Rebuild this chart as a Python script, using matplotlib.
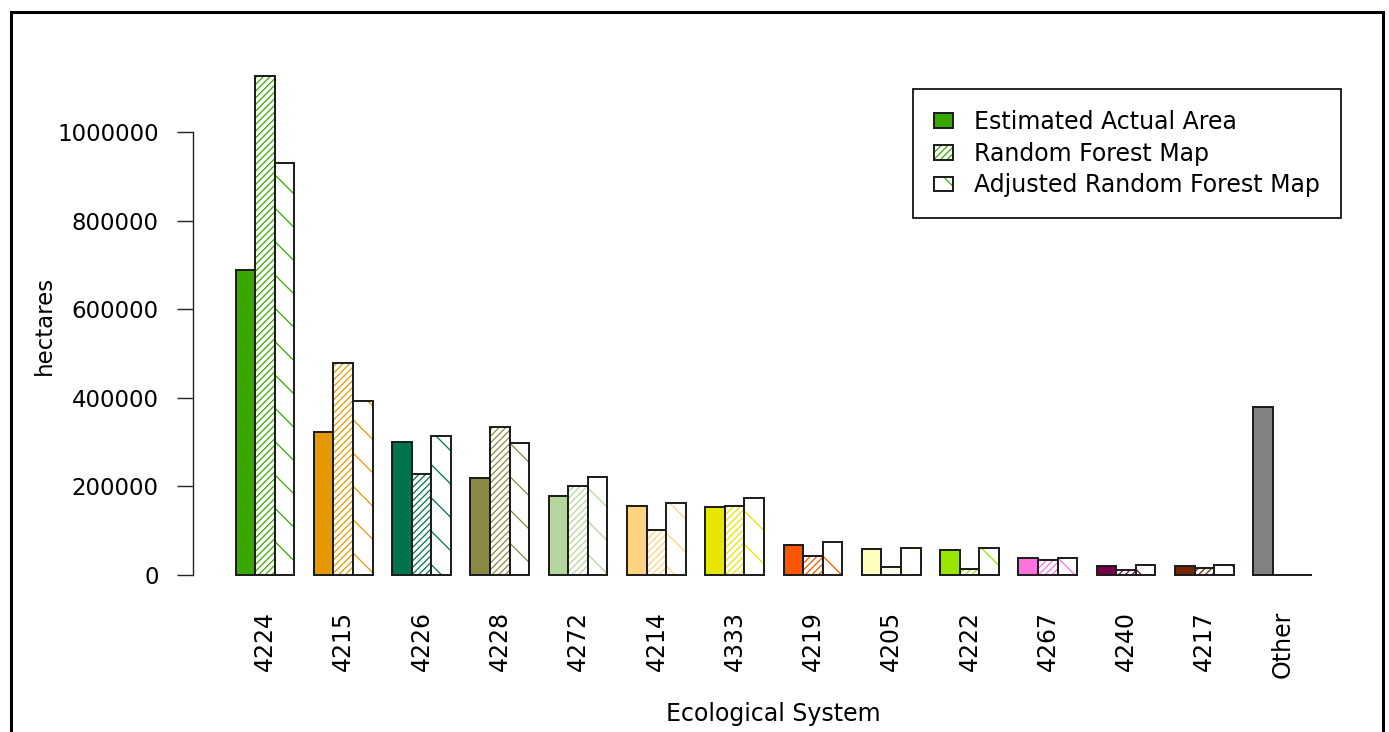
import numpy as np
import matplotlib
matplotlib.use("Agg")
import matplotlib.pyplot as plt
from matplotlib.patches import Patch, Rectangle
from matplotlib.legend_handler import HandlerTuple

# ---- data ----
systems = ["4224", "4215", "4226", "4228", "4272", "4214", "4333",
           "4219", "4205", "4222", "4267", "4240", "4217", "Other"]
colors = ["#38A800", "#E69800", "#00734C", "#898944", "#B4D79E", "#FFD37F",
          "#E6E600", "#FF5500", "#FFFFBE", "#98E600", "#FF73DF", "#73004C",
          "#732600", "#828282"]
estimated = [688000, 322000, 300000, 219000, 179000, 156000, 153000,
             67000, 59000, 56000, 38000, 21000, 21000, 380000]
random_forest = [1127000, 478000, 229000, 334000, 202000, 102000, 156000,
                 44000, 17000, 14000, 35000, 11000, 15000, 0]
adjusted = [930000, 393000, 314000, 298000, 222000, 162000, 173000,
            74000, 60000, 60000, 38000, 22000, 22000, 0]
series_names = ["Estimated Actual Area", "Random Forest Map",
                "Adjusted Random Forest Map"]
yticks = [0, 200000, 400000, 600000, 800000, 1000000]

plt.rcParams['font.family'] = ['DejaVu Sans']
plt.rcParams['hatch.linewidth'] = 0.9

W, H = 1389, 732
fig = plt.figure(figsize=(W / 100, H / 100), dpi=100)
left, right, top, bottom = 192.6, 1355.0, 55.8, 595.0
ax = fig.add_axes([left / W, 1 - bottom / H, (right - left) / W, (bottom - top) / H])

n = len(systems)
pos = np.arange(n) * 4 + 1.0
edge = "#1a1a1a"
elw = 1.4

# Estimated: solid fill
ax.bar(pos, estimated, width=1, align='edge', color=colors, edgecolor=edge, linewidth=elw)
# Random forest: dense hatch
ax.bar(pos + 1, random_forest, width=1, align='edge', color='white',
       edgecolor=colors, hatch='/////', linewidth=0)
ax.bar(pos + 1, random_forest, width=1, align='edge', fill=False,
       edgecolor=edge, linewidth=elw)
# Adjusted: sparse back hatch
ax.bar(pos + 2, adjusted, width=1, align='edge', color='white',
       edgecolor=colors, hatch='\\', linewidth=0)
ax.bar(pos + 2, adjusted, width=1, align='edge', fill=False,
       edgecolor=edge, linewidth=elw)

xmax_units = n * 4
ax.set_xlim(1 - 0.04 * (xmax_units - 1), xmax_units + 0.04 * (xmax_units - 1))
ymax = max(max(estimated), max(random_forest), max(adjusted))
ax.set_ylim(-0.04 * ymax, 1.04 * ymax)

for s in ['top', 'right', 'bottom']:
    ax.spines[s].set_visible(False)
ax.spines['left'].set_bounds(yticks[0], yticks[-1])
ax.spines['left'].set_linewidth(1.0)
ax.spines['left'].set_color('#222222')

ax.set_yticks(yticks)
ax.set_yticklabels([str(v) for v in yticks])
ax.tick_params(axis='y', length=11.5, width=1.0, pad=13, labelsize=16.5, color='#222222')

ax.set_xticks(pos + 1.5)
ax.set_xticklabels(systems, rotation=90)
ax.tick_params(axis='x', length=0, pad=11.5, labelsize=17)

ax.set_xlabel("Ecological System", fontsize=17)
ax.xaxis.set_label_coords(0.5, -0.198)
ax.xaxis.label.set_verticalalignment('top')
ax.set_ylabel("hectares", fontsize=16.5)
ax.yaxis.set_label_coords((44 - left) / (right - left), 0.5)
ax.yaxis.label.set_verticalalignment('center')

# legend
handles = [
    Patch(facecolor=colors[0], edgecolor=edge, linewidth=elw),
    (Patch(facecolor='white', edgecolor=colors[0], hatch='/////', linewidth=0),
     Patch(fill=False, edgecolor=edge, linewidth=elw)),
    (Patch(facecolor='white', edgecolor=colors[0], hatch='\\', linewidth=0),
     Patch(fill=False, edgecolor=edge, linewidth=elw)),
]
leg = ax.legend(handles, series_names, loc='upper left',
                bbox_to_anchor=(913 / W, 1 - 89 / H), bbox_transform=fig.transFigure,
                borderaxespad=0, fontsize=17, handlelength=0.8, handleheight=0.59,
                handletextpad=0.9, borderpad=0.88, labelspacing=0.33,
                fancybox=False, framealpha=1, edgecolor='black',
                handler_map={tuple: HandlerTuple(ndivide=1)})
leg.get_frame().set_linewidth(1.2)

# outer frame (open at bottom)
fig.patches.append(Rectangle((11 / W, -0.05), (1383 - 11) / W, 1.05 - 12 / H,
                             transform=fig.transFigure, fill=False,
                             edgecolor='black', linewidth=2.2, clip_on=False))

fig.savefig("out.png", dpi=100)
